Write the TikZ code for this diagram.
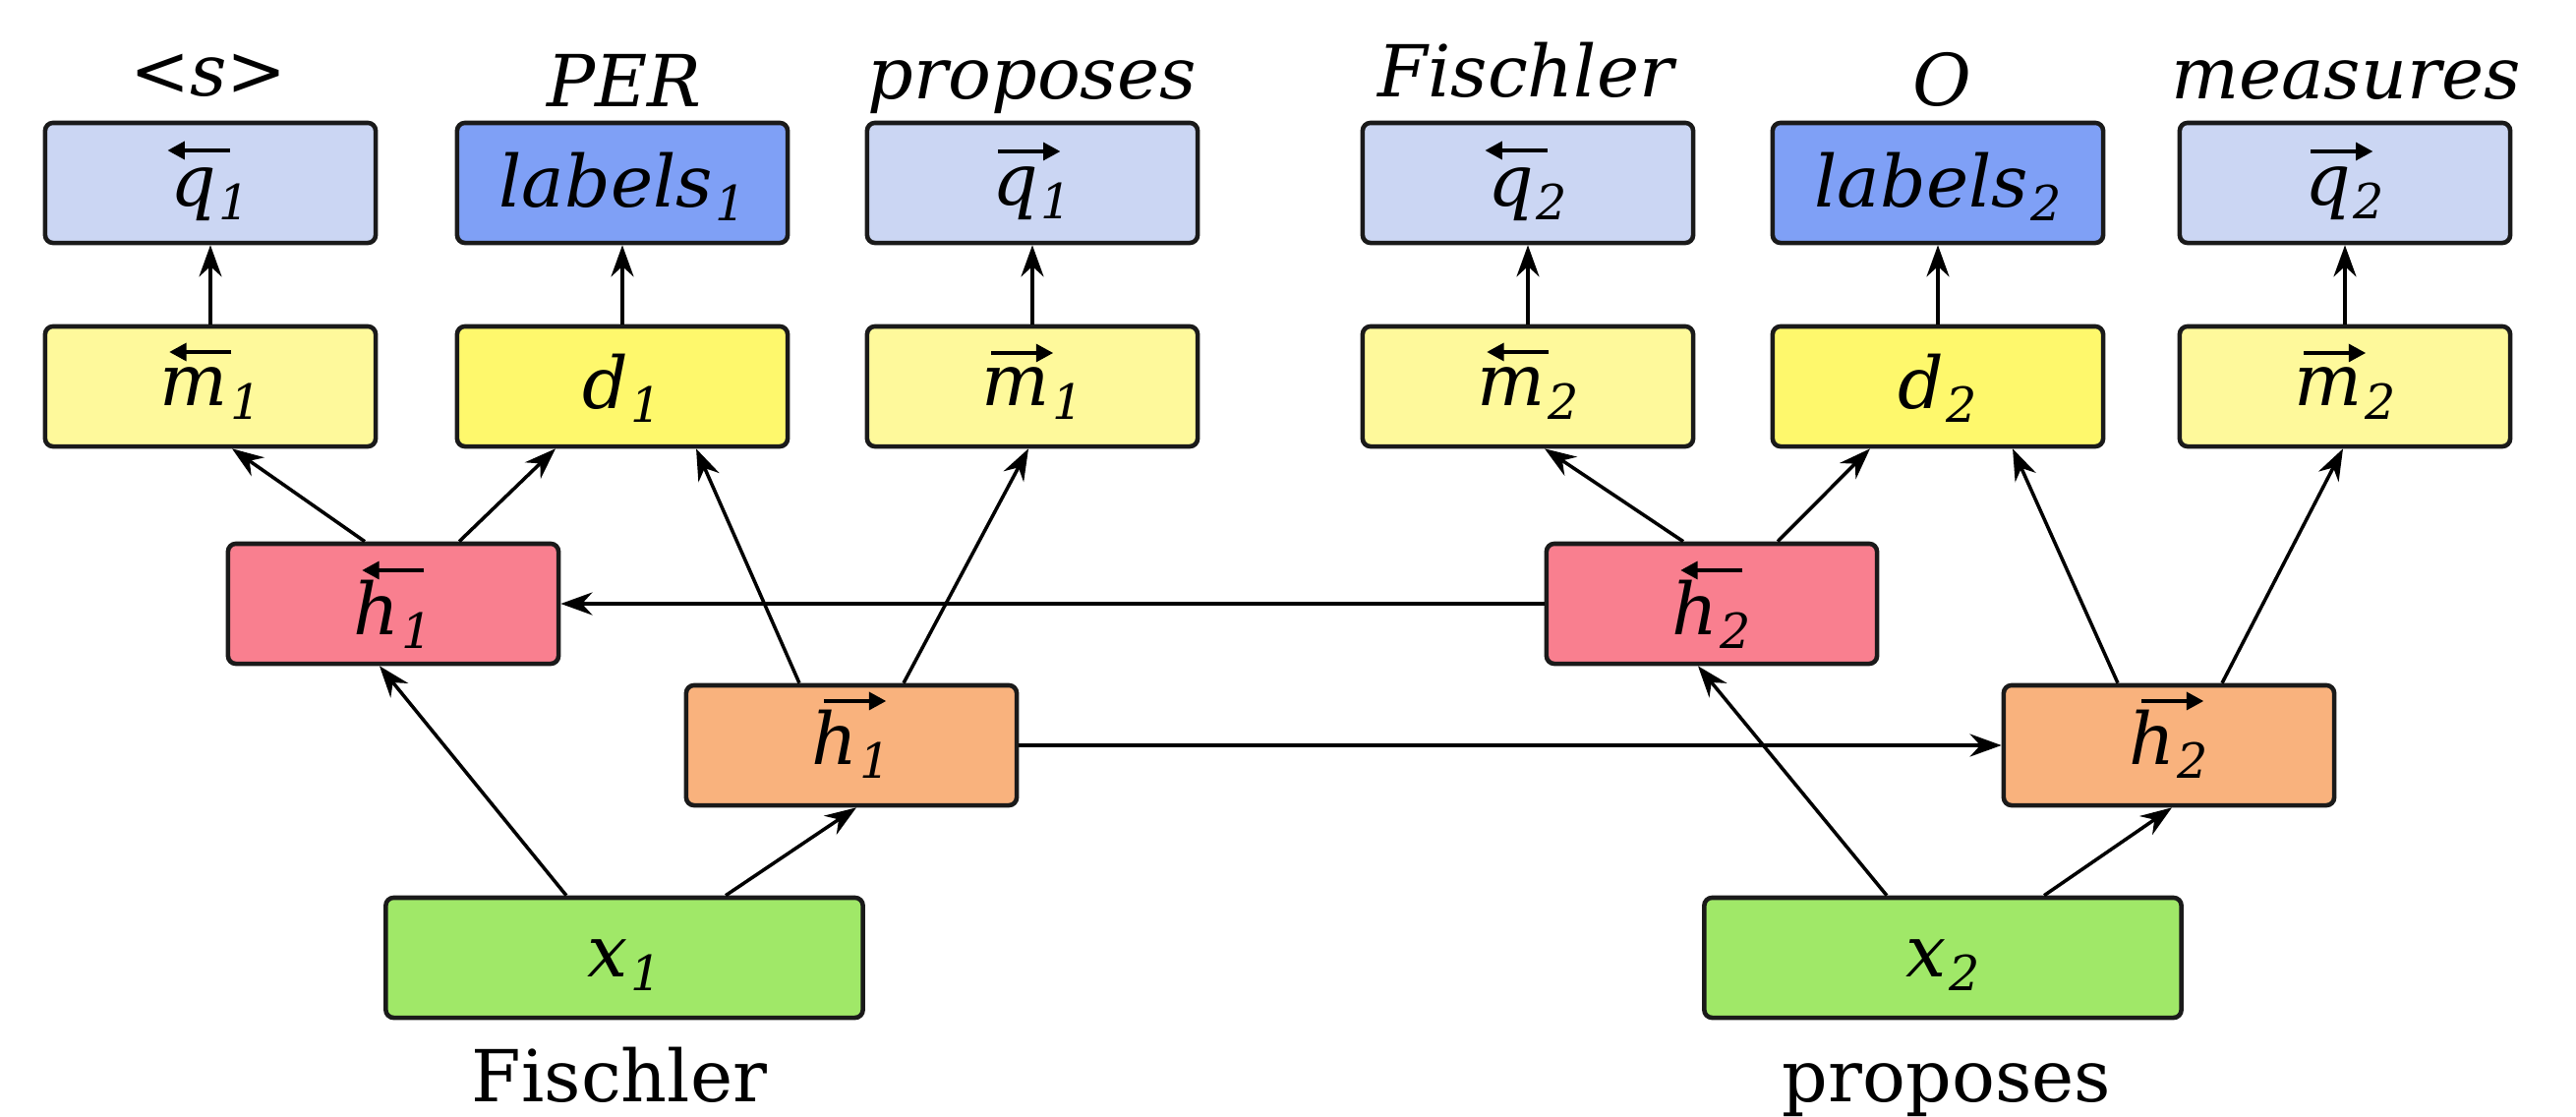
\documentclass[tikz,border=0pt]{standalone}
\usepackage{fontspec}
\setmainfont{DejaVu Serif}
\usetikzlibrary{arrows.meta}
\definecolor{cq}{HTML}{CBD6F3}
\definecolor{clab}{HTML}{7FA0F6}
\definecolor{cm}{HTML}{FEF99B}
\definecolor{cd}{HTML}{FEF86C}
\definecolor{chl}{HTML}{F97F8F}
\definecolor{chr}{HTML}{F9B27D}
\definecolor{cx}{HTML}{A0E868}
\definecolor{bd}{HTML}{1A1A1A}
\newcommand\arrL{\tikz[baseline=0pt]\draw[line width=1.35pt,-{Triangle[length=5pt,width=5pt]}] (18pt,0pt) -- (0pt,0pt);}
\newcommand\arrR{\tikz[baseline=0pt]\draw[line width=1.35pt,-{Triangle[length=5pt,width=5pt]}] (0pt,0pt) -- (18pt,0pt);}
\newcommand\subx[1]{\kern0.03em\raisebox{-0.2em}{\fontsize{14}{16}\selectfont\itshape #1}}
\newcommand\accL[4]{\rlap{\hspace*{#3}\raisebox{#4}{\arrL}}\textit{#1}\subx{#2}}
\newcommand\accR[4]{\rlap{\hspace*{#3}\raisebox{#4}{\arrR}}\textit{#1}\subx{#2}}
\newcommand\plainsub[2]{\textit{#1}\subx{#2}}
\begin{document}
\begin{tikzpicture}[x=0.01cm,y=-0.01cm,
  font=\fontsize{20.74}{25}\selectfont,
  box/.style={draw=bd, line width=1.3pt, rounded corners=0.08cm, minimum width=3.36cm, minimum height=1.22cm, inner sep=0pt, text depth=0pt},
  bl/.style={text height=#1},
  wbox/.style={box, minimum width=4.85cm},
  arr/.style={line width=1pt, -{Stealth[length=0.32cm,width=0.23cm]}},
  lab/.style={anchor=base, inner sep=0pt, font=\fontsize{20.74}{25}\selectfont\itshape},
  blab/.style={anchor=base, inner sep=0pt}]
\useasboundingbox (0,0) rectangle (2620,1136);
\fill[white] (0,0) rectangle (2620,1136);
% top row
\node[box, bl=0.46cm, fill=cq] (q1l) at (214,186) {\accL{q}{1}{-0.06cm}{0.56cm}};
\node[box, bl=0.48cm, fill=clab] (lab1) at (633,186) {\plainsub{labels}{1}};
\node[box, bl=0.44cm, fill=cq] (q1r) at (1050,186) {\accR{q}{1}{0.03cm}{0.54cm}};
\node[box, bl=0.46cm, fill=cq] (q2l) at (1554,186) {\accL{q}{2}{-0.06cm}{0.56cm}};
\node[box, bl=0.48cm, fill=clab] (lab2) at (1971,186) {\plainsub{labels}{2}};
\node[box, bl=0.44cm, fill=cq] (q2r) at (2385,186) {\accR{q}{2}{0.03cm}{0.54cm}};
% second row
\node[box, bl=0.38cm, fill=cm] (m1l) at (214,393) {\accL{m}{1}{0.07cm}{0.54cm}};
\node[box, bl=0.44cm, fill=cd] (d1) at (633,393) {\plainsub{d}{1}};
\node[box, bl=0.38cm, fill=cm] (m1r) at (1050,393) {\accR{m}{1}{0.07cm}{0.53cm}};
\node[box, bl=0.38cm, fill=cm] (m2l) at (1554,393) {\accL{m}{2}{0.07cm}{0.54cm}};
\node[box, bl=0.44cm, fill=cd] (d2) at (1971,393) {\plainsub{d}{2}};
\node[box, bl=0.38cm, fill=cm] (m2r) at (2385,393) {\accR{m}{2}{0.07cm}{0.53cm}};
% hidden
\node[box, bl=0.62cm, fill=chl] (h1l) at (400,614) {\accL{h}{1}{0.06cm}{0.65cm}};
\node[box, bl=0.38cm, fill=chr] (h1r) at (866,758) {\accR{h}{1}{0.10cm}{0.64cm}};
\node[box, bl=0.62cm, fill=chl] (h2l) at (1741,614) {\accL{h}{2}{0.06cm}{0.65cm}};
\node[box, bl=0.38cm, fill=chr] (h2r) at (2206,758) {\accR{h}{2}{0.10cm}{0.64cm}};
% inputs
\node[wbox, bl=0.38cm, fill=cx] (x1) at (635,974) {\plainsub{x}{1}};
\node[wbox, bl=0.38cm, fill=cx] (x2) at (1976,974) {\plainsub{x}{2}};
% labels
\node[lab] (t1) at (212,97) {<s>};
\node[lab] (t2) at (635,108) {PER};
\node[lab] (t3) at (1050,100) {proposes};
\node[lab] (t4) at (1552,98) {Fischler};
\node[lab] (t5) at (1975,107) {O};
\node[lab] (t6) at (2386,100) {measures};
\node[blab] (w1) at (630,1120) {Fischler};
\node[blab] (w2) at (1980,1120) {proposes};
% vertical arrows
\foreach \a/\b in {m1l/q1l,d1/lab1,m1r/q1r,m2l/q2l,d2/lab2,m2r/q2r}
  \draw[arr] (\a) -- (\b);
% diagonal arrows
\draw[arr] ([xshift=-0.29cm]h1l.north) -- ([xshift=0.22cm]m1l.south);
\draw[arr] ([xshift=0.67cm]h1l.north) -- ([xshift=-0.68cm]d1.south);
\draw[arr] ([xshift=-0.53cm]h1r.north) -- ([xshift=0.75cm]d1.south);
\draw[arr] ([xshift=0.53cm]h1r.north) -- ([xshift=-0.04cm]m1r.south);
\draw[arr] ([xshift=-0.59cm]x1.north) -- ([xshift=-0.14cm]h1l.south);
\draw[arr] ([xshift=1.03cm]x1.north) -- ([xshift=0.05cm]h1r.south);
\draw[arr] ([xshift=-0.29cm]h2l.north) -- ([xshift=0.17cm]m2l.south);
\draw[arr] ([xshift=0.67cm]h2l.north) -- ([xshift=-0.69cm]d2.south);
\draw[arr] ([xshift=-0.52cm]h2r.north) -- ([xshift=0.76cm]d2.south);
\draw[arr] ([xshift=0.54cm]h2r.north) -- ([xshift=-0.02cm]m2r.south);
\draw[arr] ([xshift=-0.57cm]x2.north) -- ([xshift=-0.14cm]h2l.south);
\draw[arr] ([xshift=1.03cm]x2.north) -- ([xshift=0.03cm]h2r.south);
% horizontal arrows
\draw[arr] (h2l.west) -- (h1l.east);
\draw[arr] (h1r.east) -- (h2r.west);
\end{tikzpicture}
\end{document}
